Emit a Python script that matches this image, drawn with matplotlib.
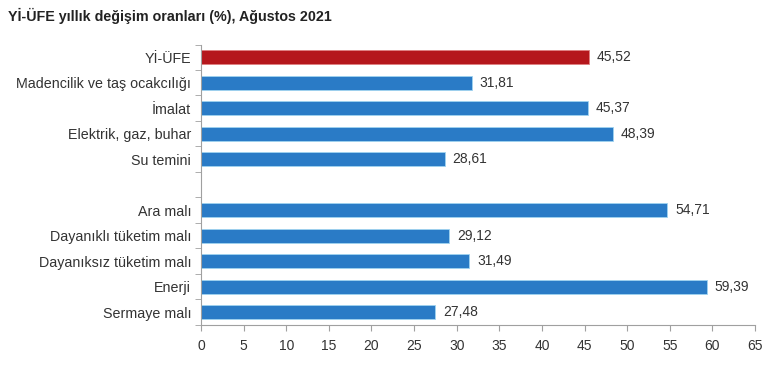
import numpy as np
import matplotlib.pyplot as plt

plt.rcParams['font.family'] = ['Liberation Sans', 'DejaVu Sans']

# chart data (the empty label is the gap between the two groups)
labels = ["Yİ-ÜFE", "Madencilik ve taş ocakcılığı", "İmalat", "Elektrik, gaz, buhar",
          "Su temini", "", "Ara malı", "Dayanıklı tüketim malı",
          "Dayanıksız tüketim malı", "Enerji", "Sermaye malı"]
values = [45.52, 31.81, 45.37, 48.39, 28.61, np.nan, 54.71, 29.12, 31.49, 59.39, 27.48]
value_labels = ["45,52", "31,81", "45,37", "48,39", "28,61", "",
                "54,71", "29,12", "31,49", "59,39", "27,48"]
x_ticks = [0, 5, 10, 15, 20, 25, 30, 35, 40, 45, 50, 55, 60, 65]

blue = "#2a7bc6"
red = "#b5171c"
text_col = "#333333"
grid_col = "#a0a0a0"

fig = plt.figure(figsize=(7.7, 3.65), dpi=100)
ax = fig.add_axes([0.261, 0.11, 0.7195, 0.768])

pos = np.arange(len(labels))
for i, (v, s) in enumerate(zip(values, value_labels)):
    if np.isnan(v):
        continue
    c = red if i == 0 else blue
    ax.barh(pos[i], v, height=0.54, color=c, edgecolor="#9fd3f0" if i else "#e08080", linewidth=0.6)
    ax.text(v + 0.9, pos[i], s, va="center", ha="left", fontsize=10, color=text_col)

ax.set_ylim(len(labels) - 0.5, -0.5)
ax.set_xlim(0, 65)
ax.set_xticks(x_ticks)
ax.tick_params(axis="x", labelsize=10, colors=text_col, color=grid_col, length=4, pad=6)

ax.set_yticks(pos)
ax.set_yticklabels(labels, fontsize=10.3, color=text_col)
ax.tick_params(axis="y", which="major", length=0, pad=7)
ax.set_yticks(np.arange(-0.5, len(labels), 1), minor=True)
ax.tick_params(axis="y", which="minor", length=4, color=grid_col)

for side in ["top", "right"]:
    ax.spines[side].set_visible(False)
ax.spines["left"].set_color(grid_col)
ax.spines["bottom"].set_color(grid_col)

fig.text(0.01, 0.955, "Yİ-ÜFE yıllık değişim oranları (%), Ağustos 2021",
         fontsize=10.3, fontweight="bold", color="#222222", va="center")

fig.savefig("out.png", dpi=100)
